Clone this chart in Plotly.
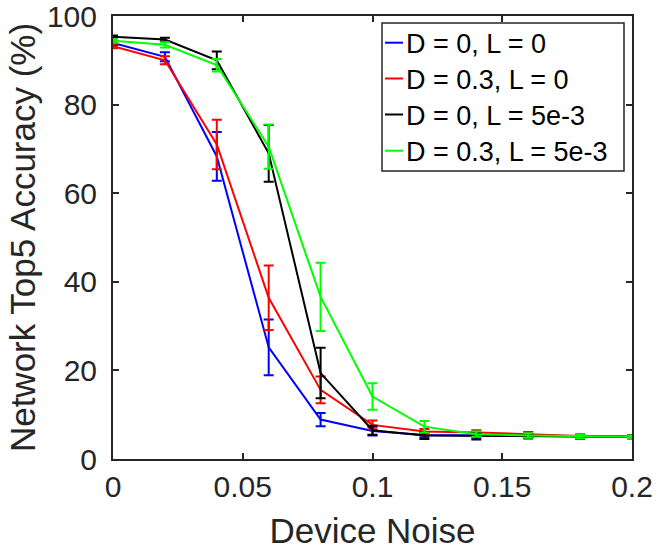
import plotly.graph_objects as go

noise = [0, 0.02, 0.04, 0.06, 0.08, 0.10, 0.12, 0.14, 0.16, 0.18, 0.20]

blue_acc = [93.9, 90.8, 68.3, 25.2, 8.9, 6.3, 5.4, 5.3, 5.2, 5.0, 5.0]
blue_err = [0.5, 1.0, 5.5, 6.3, 1.5, 1.0, 0.5, 0.5, 0.4, 0.4, 0.3]
red_acc = [93.2, 90.0, 71.0, 36.4, 15.6, 7.7, 6.2, 6.0, 5.6, 5.2, 5.0]
red_err = [0.5, 0.9, 5.6, 7.3, 3.0, 1.0, 0.6, 0.5, 0.5, 0.4, 0.3]
black_acc = [95.3, 94.7, 90.0, 69.0, 19.4, 6.5, 5.3, 5.2, 5.1, 5.0, 5.0]
black_err = [0.3, 0.4, 2.0, 6.4, 5.7, 1.0, 0.8, 0.8, 0.5, 0.4, 0.3]
green_acc = [94.4, 93.5, 88.9, 70.5, 36.6, 14.1, 7.3, 5.6, 5.3, 5.1, 5.0]
green_err = [0.4, 0.6, 1.4, 5.0, 7.7, 3.0, 1.3, 0.6, 0.5, 0.4, 0.3]

series_names = ["D = 0, L = 0", "D = 0.3, L = 0", "D = 0, L = 5e-3", "D = 0.3, L = 5e-3"]
series_colors = ["#0000ff", "#ff0000", "#000000", "#00ff00"]
series_vals = [blue_acc, red_acc, black_acc, green_acc]
series_errs = [blue_err, red_err, black_err, green_err]

x_ticks = [0, 0.05, 0.1, 0.15, 0.2]
x_ticktext = ["0", "0.05", "0.1", "0.15", "0.2"]
y_ticks = [0, 20, 40, 60, 80, 100]

FONT = "Liberation Sans, Arial, Helvetica, sans-serif"
AX = "#262626"

W, H = 657, 554
L, R, T, B = 113, 25, 16, 95
pw, ph = W - L - R, H - T - B

fig = go.Figure()
for name, col, vals, errs in zip(series_names, series_colors, series_vals, series_errs):
    fig.add_trace(go.Scatter(
        x=noise, y=vals, mode="lines", name=name,
        line=dict(color=col, width=2),
        error_y=dict(type="data", array=errs, visible=True, color=col, thickness=2, width=5),
        showlegend=False,
    ))

# custom legend (pixel positions converted to paper coords)
def px(xp):
    return (xp - L) / pw

def py(yp):
    return (H - B - yp) / ph

shapes = [dict(type="rect", xref="paper", yref="paper",
               x0=px(382), x1=px(624), y0=py(171), y1=py(23),
               line=dict(color=AX, width=1.5), fillcolor="white", layer="above")]
annotations = []
row_y = [42.7, 78.5, 114.5, 150.7]
for name, col, yy in zip(series_names, series_colors, row_y):
    shapes.append(dict(type="line", xref="paper", yref="paper",
                       x0=px(385), x1=px(403), y0=py(yy), y1=py(yy),
                       line=dict(color=col, width=2), layer="above"))
    annotations.append(dict(xref="paper", yref="paper", x=px(404), y=py(yy + 1),
                            text=name, showarrow=False, xanchor="left", yanchor="middle",
                            font=dict(family=FONT, size=27, color="#000000")))

fig.update_layout(
    width=W, height=H,
    margin=dict(l=L, r=R, t=T, b=B, pad=0),
    paper_bgcolor="white", plot_bgcolor="white",
    font=dict(family=FONT, color=AX),
    shapes=shapes, annotations=annotations,
    showlegend=False,
)
fig.update_xaxes(
    range=[0, 0.2], tickvals=x_ticks, ticktext=x_ticktext, automargin=False,
    showline=True, linecolor=AX, linewidth=2, mirror="ticks",
    ticks="inside", ticklen=6, tickwidth=1.5, tickcolor=AX,
    showgrid=False, zeroline=False, ticklabeloverflow="allow",
    tickfont=dict(family=FONT, size=30, color=AX),
    title=dict(text="Device Noise", font=dict(family=FONT, size=35, color=AX), standoff=16),
)
fig.update_yaxes(
    range=[0, 100], tickvals=y_ticks, automargin=False,
    showline=True, linecolor=AX, linewidth=2, mirror="ticks",
    ticks="inside", ticklen=6, tickwidth=1.5, tickcolor=AX,
    showgrid=False, zeroline=False, ticklabeloverflow="allow",
    tickfont=dict(family=FONT, size=30, color=AX), ticklabelstandoff=8,
    title=dict(text="Network Top5 Accuracy (%)", font=dict(family=FONT, size=35, color=AX), standoff=1),
)

fig.write_html("out.html")
